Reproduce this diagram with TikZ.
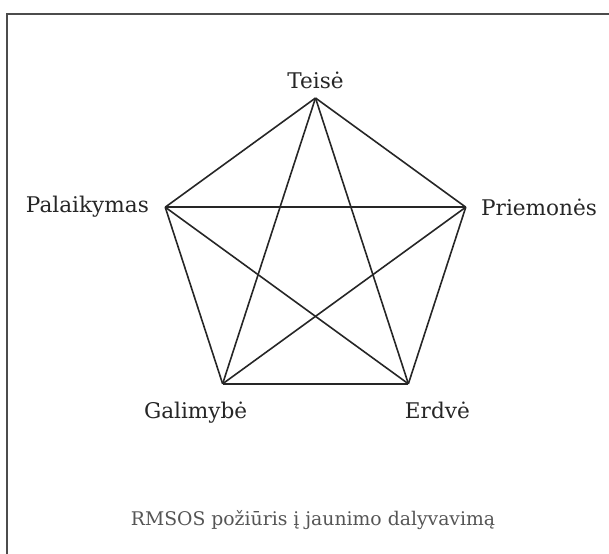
\documentclass[tikz,border=0pt]{standalone}
\usepackage{fontspec}
\setmainfont{DejaVu Serif}
\usetikzlibrary{positioning}

\definecolor{inkgray}{HTML}{262626}
\definecolor{capgray}{HTML}{555555}
\tikzset{
  edge/.style={line width=0.8pt, inkgray},
  corner/.style={inner sep=0pt, font=\fontsize{10.8}{12}\selectfont, text=inkgray},
}

\begin{document}
\begin{tikzpicture}

  \useasboundingbox (-157.75pt,-148.5pt) rectangle (146.75pt,128pt);

  % frame
  \draw [line width=1.3pt, gray!60!black] (-154.25pt,-160pt) -- (-154.25pt,121pt) -- (160pt,121pt);

  \coordinate (T) at (90:79pt);
  \coordinate (Pa) at (162:79pt);
  \coordinate (Pr) at (18:79pt);
  \coordinate (G) at (234:79pt);
  \coordinate (E) at (306:79pt);

  \node (teise) [corner, above=4.5pt of T] {Teisė};
  \node (palaikymas) [corner, left=8pt of Pa] {Palaikymas};
  \node (priemones) [corner, right=7.5pt of Pr] {Priemonės};
  \node (galimybe) [corner, below=9pt of G, xshift=-13.5pt] {Galimybė};
  \node (erdve) [corner, below=9pt of E, xshift=14.5pt] {Erdvė};

  \node (caption) [inner sep=0pt, font=\fontsize{9.4}{11}\selectfont, text=capgray] at (-1.25pt,-132pt) {RMSOS požiūris į jaunimo dalyvavimą};

  \draw [edge] (T) -- (Pa);
  \draw [edge] (T) -- (Pr);
  \draw [edge] (Pa) -- (G);
  \draw [edge] (Pr) -- (E);
  \draw [edge] (G) -- (E);
  \draw [edge] (T) -- (G);
  \draw [edge] (T) -- (E);
  \draw [edge] (Pa) -- (Pr);
  \draw [edge] (Pa) -- (E);
  \draw [edge] (Pr) -- (G);

\end{tikzpicture}
\end{document}
